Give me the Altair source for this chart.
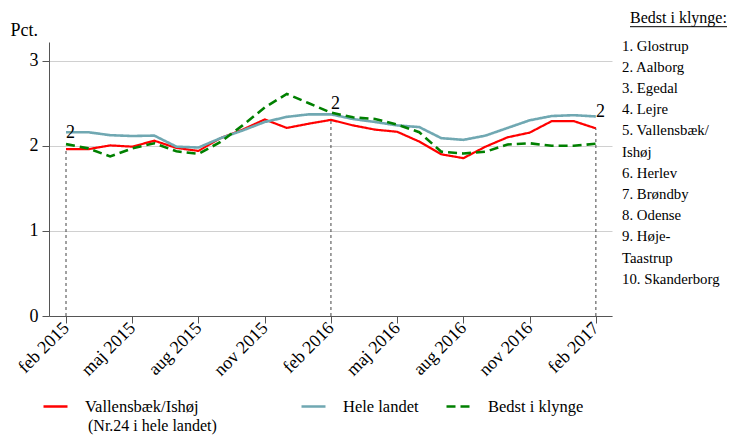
import json
import altair as alt
import pandas as pd

# ---------------- data ----------------
months = ["feb 2015", "mar 2015", "apr 2015", "maj 2015", "jun 2015", "jul 2015",
          "aug 2015", "sep 2015", "okt 2015", "nov 2015", "dec 2015", "jan 2016",
          "feb 2016", "mar 2016", "apr 2016", "maj 2016", "jun 2016", "jul 2016",
          "aug 2016", "sep 2016", "okt 2016", "nov 2016", "dec 2016", "jan 2017",
          "feb 2017"]
series_names = ["Vallensbæk/Ishøj", "Hele landet", "Bedst i klynge"]
vallensbaek = [1.96, 1.96, 2.005, 1.99, 2.06, 1.975, 1.94, 2.09, 2.19, 2.31, 2.21, 2.26,
               2.305, 2.24, 2.19, 2.165, 2.05, 1.90, 1.855, 1.99, 2.10, 2.155, 2.29, 2.29,
               2.205]
hele_landet = [2.16, 2.16, 2.125, 2.115, 2.12, 1.99, 1.98, 2.09, 2.18, 2.28, 2.34, 2.37,
               2.37, 2.315, 2.28, 2.24, 2.22, 2.09, 2.07, 2.12, 2.21, 2.30, 2.35, 2.36,
               2.345]
bedst = [2.02, 1.97, 1.875, 1.97, 2.03, 1.935, 1.905, 2.045, 2.24, 2.45, 2.61, 2.50,
         2.39, 2.335, 2.315, 2.25, 2.16, 1.93, 1.91, 1.93, 2.015, 2.03, 2.00, 2.00, 2.025]
tick_months = ["feb 2015", "maj 2015", "aug 2015", "nov 2015", "feb 2016",
               "maj 2016", "aug 2016", "nov 2016", "feb 2017"]
rank_months = ["feb 2015", "feb 2016", "feb 2017"]
ranks = ["2", "2", "2"]
national_rank = 24
klynge = ["Glostrup", "Aalborg", "Egedal", "Lejre", "Vallensbæk/Ishøj", "Herlev",
          "Brøndby", "Odense", "Høje-Taastrup", "Skanderborg"]
y_ticks = [0, 1, 2, 3]

# ---------------- styles ----------------
colors = ["#ff0000", "#70a8b2", "#008000"]
dashes = [[1, 0], [1, 0], [9, 5]]
widths = [2.2, 2.6, 2.6]
legend_x = [-7, 251, 396]
FONT = "Liberation Serif"

# ---------------- tables ----------------
rows = []
for name, vals in zip(series_names, [vallensbaek, hele_landet, bedst]):
    for i, v in enumerate(vals):
        rows.append({"idx": i, "series": name, "val": v})
df = pd.DataFrame(rows)

rank_df = pd.DataFrame({
    "idx": [months.index(m) for m in rank_months],
    "val": [vallensbaek[months.index(m)] for m in rank_months],
    "rank": ranks,
    "base": [0] * len(rank_months),
})

NB = "\u00a0"
list_lines = []
for i, n in enumerate(klynge, 1):
    pre = "" if i >= 10 else NB
    if "/" in n:
        a, b = n.split("/", 1)
        list_lines += [f"{pre}{i}. {a}/", NB * 2 + b]
    elif "-" in n:
        a, b = n.split("-", 1)
        list_lines += [f"{pre}{i}. {a}-", NB * 2 + b]
    else:
        list_lines.append(f"{pre}{i}. {n}")

one = pd.DataFrame({"a": [0]})

x_scale = alt.Scale(domain=[-0.77, 24.73], nice=False, zero=False)
y_scale = alt.Scale(domain=[0, 3.22], nice=False)

label_expr_x = f"{json.dumps(months)}[round(datum.value)]"

x_enc = alt.X("idx:Q", scale=x_scale,
              axis=alt.Axis(values=[months.index(m) for m in tick_months],
                            labelExpr=label_expr_x, grid=False, tickSize=7,
                            labelAngle=315, labelFontSize=18, labelColor="black",
                            labelAlign="right", labelBaseline="middle",
                            labelPadding=2, title=None, domainColor="#555",
                            tickColor="#555", labelFont=FONT))

y_enc = alt.Y("val:Q", scale=y_scale,
              axis=alt.Axis(values=y_ticks, format="d", tickSize=7, domainColor="#555",
                            tickColor="#555", gridColor="#d0d0d0", labelFontSize=18,
                            labelColor="black", labelPadding=4, title="Pct.",
                            titleAngle=0, titleAlign="left", titleX=-39, titleY=-7,
                            titleBaseline="alphabetic", titleFontSize=18,
                            titleFontWeight="normal", titleColor="black",
                            labelFont=FONT, titleFont=FONT))

line_layers = []
for k, name in enumerate(series_names):
    lg = alt.Legend(orient="none", legendX=legend_x[k], legendY=351,
                    direction="horizontal", title=None, symbolType="stroke",
                    symbolSize=576, symbolStrokeWidth=2.5, labelFontSize=16.5,
                    labelOffset=16, labelColor="black", labelLimit=400,
                    labelFont=FONT)
    line_layers.append(
        alt.Chart(df[df["series"] == name]).mark_line(strokeWidth=widths[k]).encode(
            x=x_enc,
            y=y_enc,
            color=alt.Color("series:N",
                            scale=alt.Scale(domain=[name], range=[colors[k]]),
                            legend=lg),
            strokeDash=alt.StrokeDash("series:N",
                                      scale=alt.Scale(domain=[name], range=[dashes[k]]),
                                      legend=lg),
        )
    )

rules = alt.Chart(rank_df).mark_rule(strokeDash=[3, 3], color="#444", strokeWidth=1).encode(
    x="idx:Q", y="base:Q", y2="val:Q")

rank_text = alt.Chart(rank_df).mark_text(align="left", baseline="alphabetic", dy=-11,
                                         fontSize=18, font=FONT, color="black").encode(
    x="idx:Q", y="val:Q", text="rank:N")

list_title = alt.Chart(one).mark_text(align="left", baseline="alphabetic", fontSize=16,
                                      font=FONT, color="black").encode(
    x=alt.value(581), y=alt.value(-19), text=alt.value("Bedst i klynge:"))

underline = alt.Chart(one).mark_point(shape="M-1,0H1", size=9409, filled=False,
                                      stroke="black", strokeWidth=1, opacity=1).encode(
    x=alt.value(629.5), y=alt.value(-15.3))

list_text = alt.Chart(one).mark_text(align="left", baseline="middle", fontSize=14.8,
                                     lineHeight=21.2, font=FONT, color="black").encode(
    x=alt.value(573), y=alt.value(4.7), text=alt.value(list_lines))

legend_sub = alt.Chart(one).mark_text(align="left", baseline="middle", fontSize=16,
                                      font=FONT, color="black").encode(
    x=alt.value(39), y=alt.value(383.5),
    text=alt.value(f"(Nr.{national_rank} i hele landet)"))

chart = alt.layer(*line_layers, rules, rank_text, list_title, underline, list_text,
                  legend_sub).resolve_scale(
    color="independent", strokeDash="independent"
).properties(
    width=563, height=274,
    autosize=alt.AutoSizeParams(type="none"),
    padding={"left": 41, "top": 34, "right": 118, "bottom": 119},
).configure(font=FONT).configure_view(stroke=None)

chart.save("out.html", embed_options={"renderer": "svg", "actions": False})
